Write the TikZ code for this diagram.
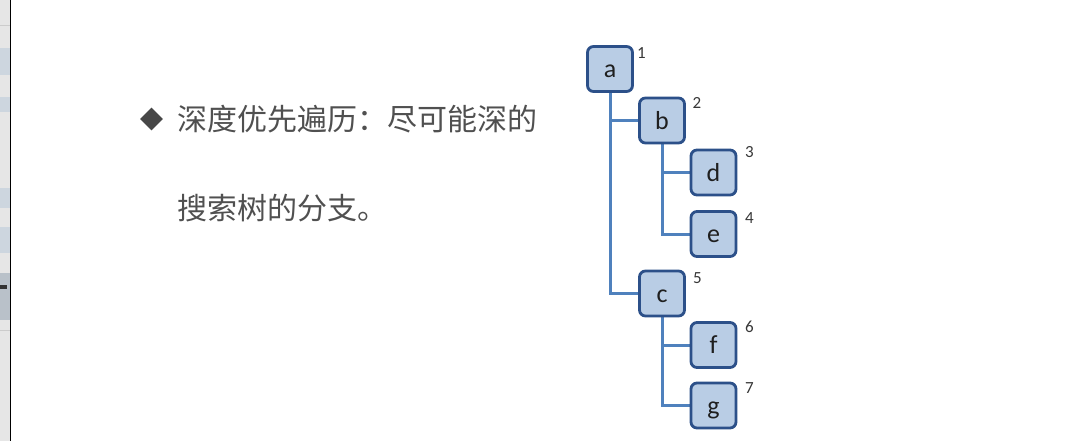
\documentclass[tikz,border=0pt]{standalone}
\usepackage{fontspec}
\setmainfont{Carlito}
\newfontfamily\cjk{Noto Sans CJK SC}
\usetikzlibrary{shapes.geometric}
\pgfdeclarelayer{connlayer}
\pgfsetlayers{connlayer,main}
\definecolor{boxfill}{HTML}{B9CDE5}
\definecolor{boxborder}{HTML}{2C5089}
\definecolor{linkcol}{HTML}{4F81BD}
\definecolor{textgray}{HTML}{505050}
\definecolor{stripgray}{HTML}{E6E6E6}
\definecolor{stripblue}{HTML}{CDD6DF}
\tikzset{
  tbox/.style={draw=boxborder, fill=boxfill, line width=2.8pt, rounded corners=6pt,
    minimum width=45pt, minimum height=45pt, inner sep=0pt,
    text height=17pt, text depth=0pt, text=black!88,
    font=\fontsize{26}{26}\selectfont},
  link/.style={draw=linkcol, line width=3pt},
  numlbl/.style={inner sep=0pt, text=black!78, font=\fontsize{17}{17}\selectfont},
  cjktext/.style={inner sep=0pt, anchor=west, text=textgray, font=\cjk\fontsize{30}{30}\selectfont},
  bulletmark/.style={diamond, fill=black!72, inner sep=0pt, minimum width=23pt, minimum height=23pt}
}
\begin{document}
\begin{tikzpicture}[x=1pt, y=-1pt]
\useasboundingbox (0,0) rectangle (1089,441);
\begin{pgfonlayer}{connlayer}
\fill[white] (0,0) rectangle (1089,441);
\end{pgfonlayer}
% left window strip
\fill[stripgray] (0,0) rectangle (10,441);
\fill[stripblue] (0,48) rectangle (10,75);
\fill[stripblue] (0,97) rectangle (10,112);
\fill[stripblue] (0,188) rectangle (10,208);
\fill[stripblue] (0,227) rectangle (10,253);
\fill[stripblue!90!black] (0,273) rectangle (10,320);
\fill[black!80] (0,285) rectangle (7,289);
\draw[black!20] (0,25) -- (10,25);
\draw[black!20] (0,330) -- (10,330);
\draw[black, line width=1.5pt] (10.5,0) -- (10.5,441);
% bullet text
\node[bulletmark] (bul) at (151.5,119) {};
\node[cjktext] (t1) at (177,119) {深度优先遍历：尽可能深的};
\node[cjktext] (t2) at (177,208) {搜索树的分支。};
% tree nodes
\node[tbox] (a) at (610,69) {a};
\node[tbox] (b) at (662,120.5) {b};
\node[tbox] (d) at (713.5,172.5) {d};
\node[tbox] (e) at (713.5,234) {e};
\node[tbox] (c) at (662,293.5) {c};
\node[tbox] (f) at (713.5,345) {f};
\node[tbox] (g) at (713.5,405.5) {g};
% connectors, behind the boxes
\begin{pgfonlayer}{connlayer}
\draw[link] (a.south) -- (a.south |- c.west) -- (c.west);
\draw[link] (a.south |- b.west) -- (b.west);
\draw[link] (b.south) -- (b.south |- e.west) -- (e.west);
\draw[link] (b.south |- d.west) -- (d.west);
\draw[link] (c.south) -- (c.south |- g.west) -- (g.west);
\draw[link] (c.south |- f.west) -- (f.west);
\end{pgfonlayer}
% order numbers
\node[numlbl] (n1) at (641.5,53) {1};
\node[numlbl] (n2) at (697,103) {2};
\node[numlbl] (n3) at (749.5,152) {3};
\node[numlbl] (n4) at (749.5,218) {4};
\node[numlbl] (n5) at (697.5,278) {5};
\node[numlbl] (n6) at (749.5,327) {6};
\node[numlbl] (n7) at (749.5,388) {7};
\end{tikzpicture}
\end{document}
